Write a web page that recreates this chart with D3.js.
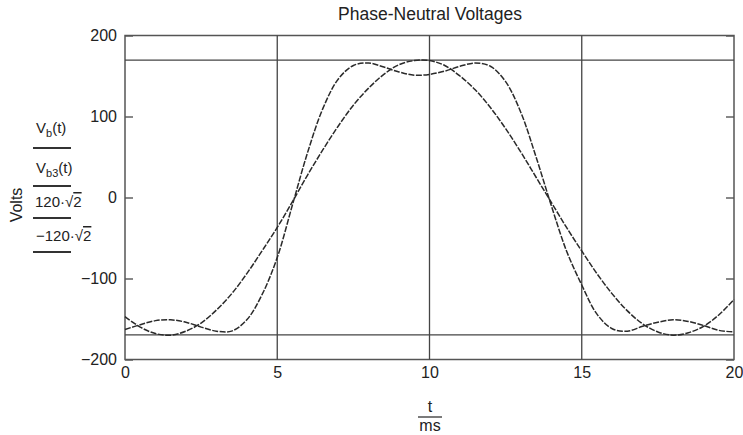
<!DOCTYPE html>
<html>
<head>
  <meta charset="utf-8">
  <title>Phase-Neutral Voltages</title>
  <script src="https://cdn.jsdelivr.net/npm/d3@7"></script>
  <style>
    body { margin: 0; background: #fff; }
    text { font-family: "Liberation Sans", Arial, sans-serif; fill: #222; }
  </style>
</head>
<body>
<script>
// time in ms, values in volts
const tMs = [0, 0.5, 1, 1.5, 2, 2.5, 3, 3.5, 4, 4.5, 5, 5.5, 6, 6.5, 7, 7.5, 8, 8.5, 9, 9.5,
  10, 10.5, 11, 11.5, 12, 12.5, 13, 13.5, 14, 14.5, 15, 15.5, 16, 16.5, 17, 17.5, 18, 18.5, 19, 19.5, 20];
const vb = [-147, -160, -168, -170, -165, -155, -139, -119, -94, -66, -37, -5, 28, 59, 88, 114, 135, 152, 164, 169,
  169, 163, 150, 133, 111, 85, 56, 25, -6, -37, -66, -94, -119, -140, -156, -166, -170, -167, -159, -145, -126];
const vb3 = [-163, -157, -152, -151, -154, -160, -165, -165, -151, -120, -74, -9, 56, 110, 146, 163, 166, 161, 155, 151,
  152, 156, 162, 166, 162, 143, 105, 50, -10, -66, -108, -144, -162, -165, -159, -154, -151, -153, -158, -164, -166];
const levels = [120 * Math.SQRT2, -120 * Math.SQRT2];
const xTicks = [0, 5, 10, 15, 20];
const yTicks = [-200, -100, 0, 100, 200];
const gridT = [5, 10, 15];

const W = 743, H = 435;
const svg = d3.select("body").append("svg").attr("width", W).attr("height", H);

const x = d3.scaleLinear().domain([0, 20]).range([125, 734]);
const y = d3.scaleLinear().domain([-200, 200]).range([359.5, 35.5]);

// titel
svg.append("text").attr("x", 430).attr("y", 20).attr("text-anchor", "middle")
  .attr("font-size", "17.5px").text("Phase-Neutral Voltages");

// y akser (venstre og hoejre) med ticks indad
const yl = svg.append("g").attr("transform", `translate(${x(0)},0)`)
  .call(d3.axisLeft(y).tickValues(yTicks).tickSizeInner(-8).tickSizeOuter(0).tickPadding(8)
    .tickFormat(d => d < 0 ? "\u2212" + Math.abs(d) : d));
const yr = svg.append("g").attr("transform", `translate(${x(20)},0)`)
  .call(d3.axisRight(y).tickValues(yTicks).tickSizeInner(-8).tickSizeOuter(0).tickFormat(""));
const xb = svg.append("g").attr("transform", `translate(0,${y(-200)})`)
  .call(d3.axisBottom(x).tickValues(xTicks).tickSize(0).tickPadding(5));
[yl, yr, xb].forEach(g => {
  g.select(".domain").remove();
  g.selectAll("line").attr("stroke", "#555").attr("stroke-width", 1.4);
  g.selectAll("text").attr("font-size", "16px").attr("fill", "#333")
    .attr("font-family", "Liberation Sans, Arial, sans-serif");
});
xb.selectAll("text").attr("dy", "0.85em");

// ramme
svg.append("rect").attr("x", x(0)).attr("y", y(200)).attr("width", x(20) - x(0)).attr("height", y(-200) - y(200))
  .attr("fill", "none").attr("stroke", "#555").attr("stroke-width", 1.5);

// lodrette gitterlinjer
svg.selectAll(".grid").data(gridT).enter().append("line")
  .attr("x1", d => x(d)).attr("x2", d => x(d)).attr("y1", y(200)).attr("y2", y(-200))
  .attr("stroke", "#444").attr("stroke-width", 1.3);

// +/- 120*sqrt(2)
svg.selectAll(".lvl").data(levels).enter().append("line")
  .attr("x1", x(0)).attr("x2", x(20)).attr("y1", d => y(d)).attr("y2", d => y(d))
  .attr("stroke", "#444").attr("stroke-width", 1.3);

const line = d3.line().x(d => x(d[0])).y(d => y(d[1])).curve(d3.curveCatmullRom);
[vb, vb3].forEach(vals => {
  svg.append("path").datum(tMs.map((t, i) => [t, vals[i]]))
    .attr("d", line).attr("fill", "none").attr("stroke", "#2a2a2a")
    .attr("stroke-width", 1.5).attr("stroke-dasharray", "6,1.5");
});

// x-akse label: t over ms
svg.append("text").attr("x", 430).attr("y", 412).attr("text-anchor", "middle").attr("font-size", "16px").text("t");
svg.append("line").attr("x1", 418).attr("x2", 442).attr("y1", 417).attr("y2", 417).attr("stroke", "#333").attr("stroke-width", 1.3);
svg.append("text").attr("x", 430).attr("y", 431).attr("text-anchor", "middle").attr("font-size", "16px").text("ms");

// y-akse label
svg.append("text").attr("transform", "translate(22,205) rotate(-90)").attr("text-anchor", "middle")
  .attr("font-size", "16px").text("Volts");

// legende
const leg = svg.append("g").attr("font-size", "15px");
const l1 = leg.append("text").attr("x", 36).attr("y", 133);
l1.append("tspan").text("V");
l1.append("tspan").attr("font-size", "11px").attr("dy", 4).text("b");
l1.append("tspan").attr("dy", -4).text("(t)");
const l2 = leg.append("text").attr("x", 36).attr("y", 173);
l2.append("tspan").text("V");
l2.append("tspan").attr("font-size", "11px").attr("dy", 4).text("b3");
l2.append("tspan").attr("dy", -4).text("(t)");
const l3 = leg.append("text").attr("x", 35).attr("y", 207);
l3.append("tspan").text("120\u00b7\u221a");
l3.append("tspan").style("text-decoration", "overline").text("2");
const l4 = leg.append("text").attr("x", 36).attr("y", 241);
l4.append("tspan").text("\u2212120\u00b7\u221a");
l4.append("tspan").style("text-decoration", "overline").text("2");
[148, 186, 218, 252].forEach(yy => {
  leg.append("line").attr("x1", 33).attr("x2", 71).attr("y1", yy).attr("y2", yy)
    .attr("stroke", "#333").attr("stroke-width", 2);
});
</script>
</body>
</html>
